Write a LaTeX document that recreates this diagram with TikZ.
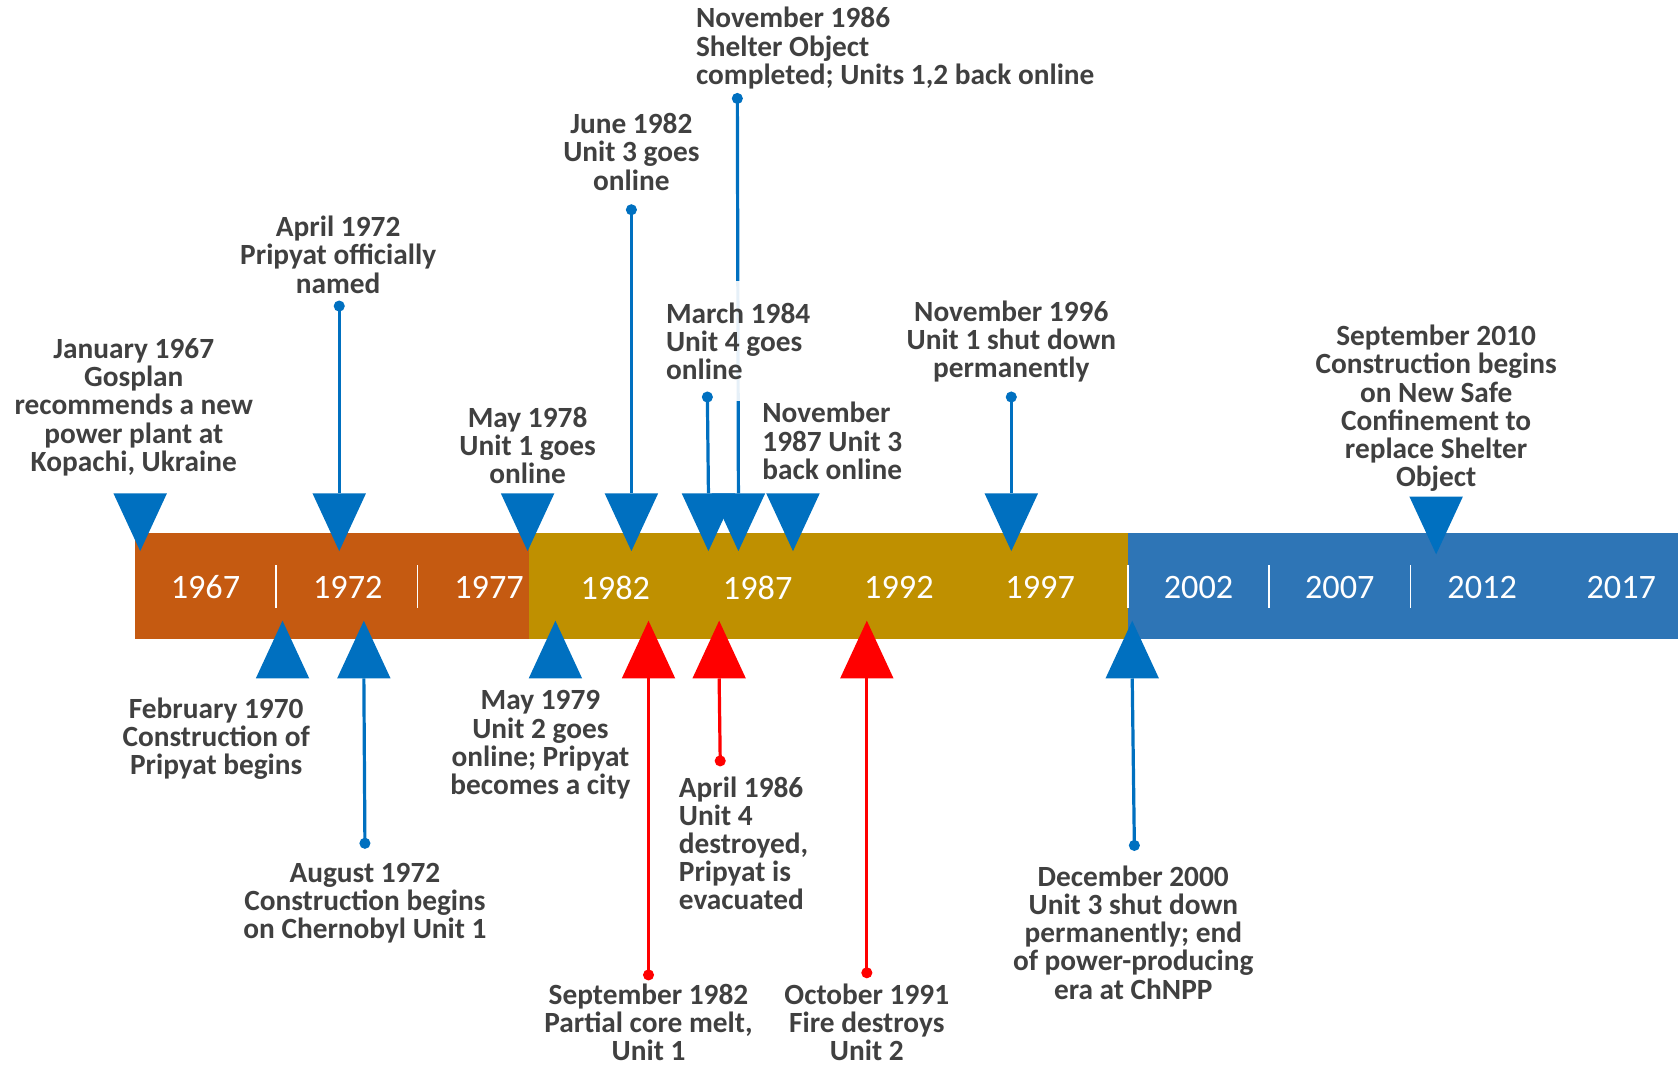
\documentclass[tikz,border=0pt]{standalone}
\usepackage{fontspec}
\setmainfont{Carlito}
\definecolor{tblue}{HTML}{0070C0}
\definecolor{tred}{HTML}{FF0000}
\definecolor{barO}{HTML}{C55A11}
\definecolor{barG}{HTML}{BF9000}
\definecolor{barB}{HTML}{2E75B6}
\definecolor{txt}{HTML}{404040}
\begin{document}
\begin{tikzpicture}[x=0.5pt,y=-0.5pt,
  ev/.style={font=\bfseries\fontsize{13.7pt}{13.15pt}\selectfont, text=txt, align=center, inner sep=0pt, yshift=-1pt},
  evl/.style={ev, align=left},
  yr/.style={font=\fontsize{16pt}{19pt}\selectfont, text=white, inner sep=0pt},
  conn/.style={line width=1.5pt, draw=tblue},
  connr/.style={line width=1.5pt, draw=tred},
  divider/.style={draw=white, line width=1pt},
  dtri/.pic={\path[pic actions] (-25,0) -- (25,0) -- (0,54) -- cycle;},
  utri/.pic={\path[pic actions] (-25,0) -- (25,0) -- (0,-54) -- cycle;},
]
\useasboundingbox (0,0) rectangle (1568,997);

% bar
\fill[barO] (126,498) rectangle (494,597);
\fill[barG] (494,498) rectangle (1054,597);
\fill[barB] (1054,498) rectangle (1568,597);
\draw[divider] (258,528) -- (258,568);
\draw[divider, line width=0.5pt] (390,528) -- (390,568);
\draw[divider] (1054,528) -- (1054,568);
\draw[divider] (1186,528) -- (1186,568);
\draw[divider, line width=0.5pt] (1318,528) -- (1318,568);

\node[yr] (y1967) at (192,549) {1967};
\node[yr] (y1972) at (325,549) {1972};
\node[yr] (y1977) at (457,549) {1977};
\node[yr] (y1982) at (575,549) {1982};
\node[yr] (y1987) at (708,549) {1987};
\node[yr] (y1992) at (840,549) {1992};
\node[yr] (y1997) at (972,549) {1997};
\node[yr] (y2002) at (1120,549) {2002};
\node[yr] (y2007) at (1252,549) {2007};
\node[yr] (y2012) at (1385,549) {2012};
\node[yr] (y2017) at (1515,549) {2017};

% anchor coordinates: triangle bases and dots
\coordinate (bApr72) at (317,461);  \coordinate (dApr72) at (317,286);
\coordinate (bJun82) at (590,461);  \coordinate (dJun82) at (590,196);
\coordinate (bMar84) at (662,461);  \coordinate (dMar84) at (661,371);
\coordinate (bNov86) at (690,461);  \coordinate (dNov86) at (689,92);
\coordinate (bNov96) at (945,461);  \coordinate (dNov96) at (945,371);
\coordinate (bAug72) at (340,634);  \coordinate (dAug72) at (341,788);
\coordinate (bSep82) at (606,634);  \coordinate (dSep82) at (606,911);
\coordinate (bApr86) at (672,634);  \coordinate (dApr86) at (673,711);
\coordinate (bOct91) at (810,634);  \coordinate (dOct91) at (810,909);
\coordinate (bDec00) at (1058,634); \coordinate (dDec00) at (1060,790);

% connectors
\foreach \n in {Apr72,Jun82,Nov86,Nov96,Aug72,Dec00}{
  \draw[conn] (d\n) -- (b\n);
  \fill[tblue] (d\n) circle[radius=2.6pt];
}
\foreach \n in {Sep82,Apr86,Oct91}{
  \draw[connr] (d\n) -- (b\n);
  \fill[tred] (d\n) circle[radius=2.6pt];
}

% event texts
\node[ev] (tJan67) at (125,378.5) {January 1967\\Gosplan\\recommends a new\\power plant at\\Kopachi, Ukraine};
\node[ev] (tApr72) at (316,236) {April 1972\\Pripyat officially\\named};
\node[ev] (tMay78) at (493,414) {May 1978\\Unit 1 goes\\online};
\node[ev] (tJun82) at (590,140) {June 1982\\Unit 3 goes\\online};
\node[evl, anchor=west] (tNov86) at (650,43) {November 1986\\Shelter Object\\completed; Units 1,2 back online};
\node[evl, anchor=west, fill=white, fill opacity=0.9, text opacity=1, inner ysep=10pt] (tMar84) at (622,317) {March 1984\\Unit 4 goes\\online};
\node[evl, anchor=west] (tNov87) at (712,410) {November\\1987 Unit 3\\back online};
\node[ev] (tNov96) at (945,317) {November 1996\\Unit 1 shut down\\permanently};
\node[ev] (tSep10) at (1342,379.5) {September 2010\\Construction begins\\on New Safe\\Confinement to\\replace Shelter\\Object};
\node[ev] (tFeb70) at (202,688) {February 1970\\Construction of\\Pripyat begins};
\node[ev] (tAug72) at (341,842) {August 1972\\Construction begins\\on Chernobyl Unit 1};
\node[ev] (tMay79) at (505,694) {May 1979\\Unit 2 goes\\online; Pripyat\\becomes a city};
\node[ev, yshift=2pt] (tSep82) at (606,957) {September 1982\\Partial core melt,\\Unit 1};
\node[evl, anchor=west] (tApr86) at (634,786) {April 1986\\Unit 4\\destroyed,\\Pripyat is\\evacuated};
\node[ev, yshift=2pt] (tOct91) at (810,957) {October 1991\\Fire destroys\\Unit 2};
\node[ev] (tDec00) at (1059,869.5) {December 2000\\Unit 3 shut down\\permanently; end\\of power-producing\\era at ChNPP};

% March 1984 connector drawn above its text box
\draw[conn] (dMar84) -- (bMar84);
\fill[tblue] (dMar84) circle[radius=2.6pt];

% down triangles
\pic[fill=tblue] at (131,461) {dtri};
\pic[fill=tblue] at (bApr72) {dtri};
\pic[fill=tblue] at (493,461) {dtri};
\pic[fill=tblue] at (bJun82) {dtri};
\pic[fill=tblue] at (bMar84) {dtri};
\pic[fill=tblue] at (bNov86) {dtri};
\pic[fill=tblue] at (741,461) {dtri};
\pic[fill=tblue] at (bNov96) {dtri};
\pic[fill=tblue] at (1342,464) {dtri};
% up triangles
\pic[fill=tblue] at (264,634) {utri};
\pic[fill=tblue] at (bAug72) {utri};
\pic[fill=tblue] at (519,634) {utri};
\pic[fill=tred] at (bSep82) {utri};
\pic[fill=tred] at (bApr86) {utri};
\pic[fill=tred] at (bOct91) {utri};
\pic[fill=tblue] at (bDec00) {utri};
\end{tikzpicture}
\end{document}
